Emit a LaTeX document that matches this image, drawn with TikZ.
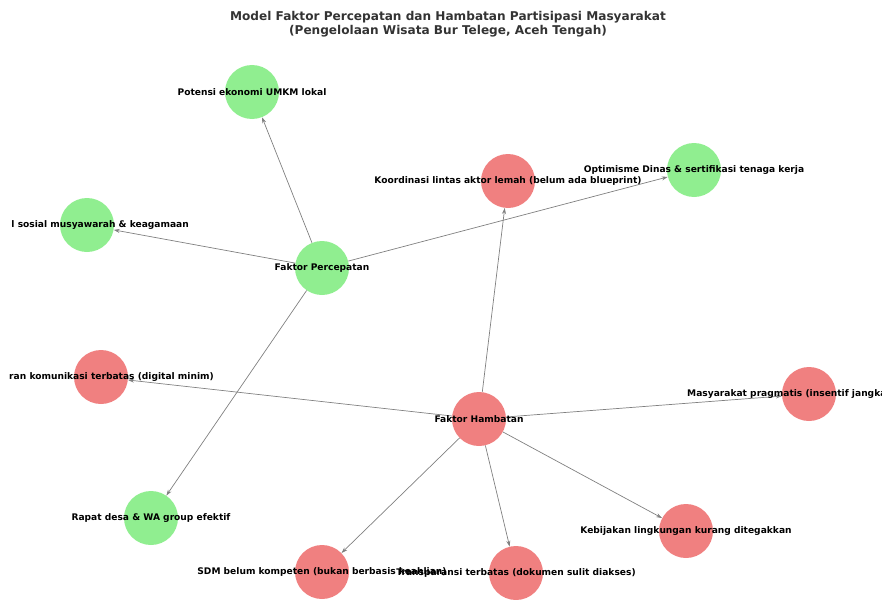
\documentclass[tikz,border=0pt]{standalone}
\usepackage{fontspec}
\setmainfont{DejaVu Sans}
\usetikzlibrary{arrows.meta}

\definecolor{lightgreen}{HTML}{90EE90}
\definecolor{lightcoral}{HTML}{F08080}
\definecolor{titlegray}{HTML}{333333}

\begin{document}
\begin{tikzpicture}[x=1pt,y=-1pt,
	fast/.style={circle,fill=lightgreen,minimum size=54pt,inner sep=0pt},
	slow/.style={circle,fill=lightcoral,minimum size=54pt,inner sep=0pt},
	lbl/.style={font=\bfseries\fontsize{9.1}{11}\selectfont,inner sep=0pt},
	edge/.style={draw=gray,line width=0.7pt,-{Stealth[length=6pt,width=4pt]}}]
\path[use as bounding box] (0,0) rectangle (882,599);
\clip (0,0) rectangle (882,599);

\node [font=\bfseries\fontsize{12.1}{14}\selectfont,text=titlegray,align=center] (title) at (448,24)
	{Model Faktor Percepatan dan Hambatan Partisipasi Masyarakat\\(Pengelolaan Wisata Bur Telege, Aceh Tengah)};

\node [fast] (fp) at (322,268) {};
\node [fast] (potensi) at (252,92) {};
\node [fast] (modal) at (87,225) {};
\node [fast] (optimisme) at (694,170) {};
\node [fast] (rapat) at (151,518) {};
\node [slow] (fh) at (479,419) {};
\node [slow] (koordinasi) at (508,181) {};
\node [slow] (sarana) at (101,377) {};
\node [slow] (masyarakat) at (809,394) {};
\node [slow] (kebijakan) at (686,531) {};
\node [slow] (sdm) at (322,572) {};
\node [slow] (transparansi) at (516,573) {};

\draw [edge] (fp) -- (potensi);
\draw [edge] (fp) -- (modal);
\draw [edge] (fp) -- (optimisme);
\draw [edge] (fp) -- (rapat);
\draw [edge] (fh) -- (koordinasi);
\draw [edge] (fh) -- (sarana);
\draw [edge] (fh) -- (masyarakat);
\draw [edge] (fh) -- (kebijakan);
\draw [edge] (fh) -- (sdm);
\draw [edge] (fh) -- (transparansi);

\node [lbl] at (fp) {Faktor Percepatan};
\node [lbl] at (potensi) {Potensi ekonomi UMKM lokal};
\node [lbl,anchor=east] at (189,225) {l sosial musyawarah \& keagamaan};
\node [lbl] at (optimisme) {Optimisme Dinas \& sertifikasi tenaga kerja};
\node [lbl] at (rapat) {Rapat desa \& WA group efektif};
\node [lbl] at (fh) {Faktor Hambatan};
\node [lbl] at (koordinasi) {Koordinasi lintas aktor lemah (belum ada blueprint)};
\node [lbl,anchor=east] at (214,377) {ran komunikasi terbatas (digital minim)};
\node [lbl,anchor=west] at (687,394) {Masyarakat pragmatis (insentif jangka};
\node [lbl] at (kebijakan) {Kebijakan lingkungan kurang ditegakkan};
\node [lbl] at (sdm) {SDM belum kompeten (bukan berbasis keahlian)};
\node [lbl] at (transparansi) {Transparansi terbatas (dokumen sulit diakses)};
\end{tikzpicture}
\end{document}
